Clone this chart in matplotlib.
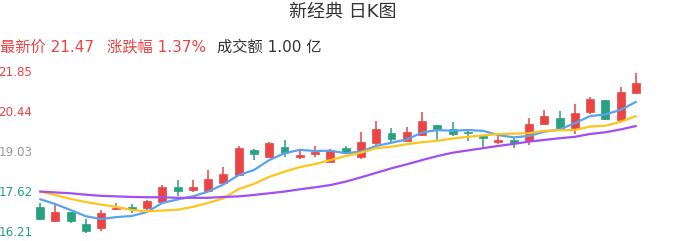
import numpy as np
import matplotlib
matplotlib.use('Agg')
import matplotlib.pyplot as plt
import matplotlib.transforms as mtransforms

plt.rcParams['font.family'] = ['DejaVu Sans', 'Noto Sans CJK SC']

# daily candles (open, high, low, close)
opens = [17.11, 16.61, 16.93, 16.51, 16.39, 17.03, 17.11, 17.07, 17.30, 17.81,
         17.72, 17.67, 17.97, 18.25, 19.13, 18.89, 19.22, 18.87, 18.99, 18.69,
         19.21, 18.89, 19.37, 19.72, 19.44, 19.65, 20.01, 19.87, 19.75, 19.63,
         19.40, 19.48, 19.44, 20.04, 20.24, 19.91, 20.48, 20.88, 20.18, 21.15]
highs = [17.25, 17.22, 16.94, 16.68, 17.01, 17.25, 17.22, 17.36, 17.88, 18.07,
         18.07, 18.42, 18.52, 19.28, 19.16, 19.41, 19.48, 19.15, 19.27, 19.15,
         19.27, 19.75, 20.15, 19.91, 19.94, 20.46, 20.01, 20.11, 19.85, 19.65,
         19.65, 19.59, 20.24, 20.54, 20.50, 20.75, 21.00, 20.88, 21.36, 21.85]
lows = [16.66, 16.60, 16.54, 16.21, 16.28, 17.01, 16.89, 17.01, 17.30, 17.50,
        17.66, 17.67, 17.97, 18.25, 18.76, 18.89, 18.89, 18.82, 18.89, 18.69,
        18.97, 18.81, 19.29, 19.36, 19.44, 19.62, 19.47, 19.63, 19.44, 19.24,
        19.33, 19.21, 19.30, 20.04, 19.83, 19.70, 20.39, 20.18, 20.18, 21.15]
closes = [16.68, 16.94, 16.63, 16.26, 16.89, 17.08, 17.06, 17.33, 17.81, 17.69,
          17.82, 18.09, 18.27, 19.21, 18.98, 19.38, 19.03, 18.96, 19.04, 19.09,
          19.01, 19.41, 19.87, 19.52, 19.75, 20.14, 19.88, 19.69, 19.71, 19.54,
          19.48, 19.36, 20.04, 20.32, 19.89, 20.42, 20.91, 20.22, 21.18, 21.47]

# moving averages as shown
ma5 = [17.39, 17.22, 17.01, 16.79, 16.69, 16.76, 16.80, 16.94, 17.26, 17.38,
       17.49, 17.66, 17.91, 18.24, 18.42, 18.77, 19.01, 19.13, 19.09, 19.10,
       19.01, 19.07, 19.27, 19.38, 19.50, 19.74, 19.83, 19.80, 19.83, 19.80,
       19.65, 19.57, 19.62, 19.77, 19.85, 20.07, 20.32, 20.38, 20.54, 20.82]
ma10 = [17.66, 17.54, 17.40, 17.29, 17.20, 17.12, 17.01, 16.96, 16.99, 17.02,
        17.12, 17.26, 17.42, 17.75, 17.93, 18.18, 18.36, 18.52, 18.63, 18.77,
        18.91, 19.03, 19.19, 19.24, 19.33, 19.40, 19.45, 19.53, 19.59, 19.64,
        19.69, 19.70, 19.72, 19.80, 19.82, 19.83, 19.95, 19.98, 20.12, 20.32]
ma20 = [17.66, 17.63, 17.60, 17.55, 17.51, 17.49, 17.47, 17.46, 17.46, 17.44,
        17.44, 17.44, 17.47, 17.49, 17.54, 17.60, 17.66, 17.74, 17.81, 17.89,
        18.01, 18.16, 18.32, 18.48, 18.62, 18.77, 18.91, 19.03, 19.11, 19.19,
        19.27, 19.34, 19.42, 19.48, 19.54, 19.59, 19.69, 19.75, 19.85, 19.97]

stock_name = '新经典'
latest_price = '21.47'
change_pct = '1.37%'
turnover = '1.00 亿'

RED = '#eb4444'
GREEN = '#27a17f'
W, H = 686, 241

fig = plt.figure(figsize=(W / 100, H / 100), dpi=100)
ax = fig.add_axes([32.4 / W, (H - 232.7) / H, 611.2 / W, 160.0 / H])

n = len(closes)
x = np.arange(n)
o = np.array(opens)
c = np.array(closes)
up = c >= o
colors = [RED if u else GREEN for u in up]

ax.vlines(x, lows, highs, colors=colors, linewidth=1.1, zorder=2, clip_on=False)
body_low = np.minimum(o, c)
body_h = np.maximum(np.abs(c - o), 0.03)
ax.bar(x, body_h, bottom=body_low, width=0.52, color=colors,
       edgecolor=colors, linewidth=0.5, zorder=3, clip_on=False)

ax.plot(x, ma5, color='#5aa2ee', lw=1.6, zorder=4, solid_capstyle='round')
ax.plot(x, ma10, color='#fdc51e', lw=1.6, zorder=4, solid_capstyle='round')
ax.plot(x, ma20, color='#a14ff0', lw=1.6, zorder=4, solid_capstyle='round')

lo, hi = min(lows), max(highs)
ax.set_xlim(-0.5, n - 0.5)
ax.set_ylim(lo, hi)
ax.axis('off')

# price labels on the left
mid = (lo + hi) / 2
trans = mtransforms.blended_transform_factory(fig.transFigure, ax.transData)
for v in np.linspace(lo, hi, 5):
    if abs(v - mid) < 1e-6:
        col = '#999999'
    elif v > mid:
        col = RED
    else:
        col = GREEN
    ax.text(-1.5 / W, v, f'{v:.2f}', transform=trans, ha='left', va='center',
            fontsize=8.6, color=col, clip_on=False)

fig.text(343 / W, 1 - 12 / H, f'{stock_name} 日K图', ha='center', va='center',
         fontsize=13, color='#333333')

ty = 1 - 47 / H
fig.text(0, ty, f'最新价 {latest_price}', ha='left', va='center', fontsize=11, color=RED)
fig.text(107 / W, ty, f'涨跌幅 {change_pct}', ha='left', va='center', fontsize=11, color=RED)
fig.text(217 / W, ty, f'成交额 {turnover}', ha='left', va='center', fontsize=11, color='#333333')

fig.savefig('out.png', dpi=100)
